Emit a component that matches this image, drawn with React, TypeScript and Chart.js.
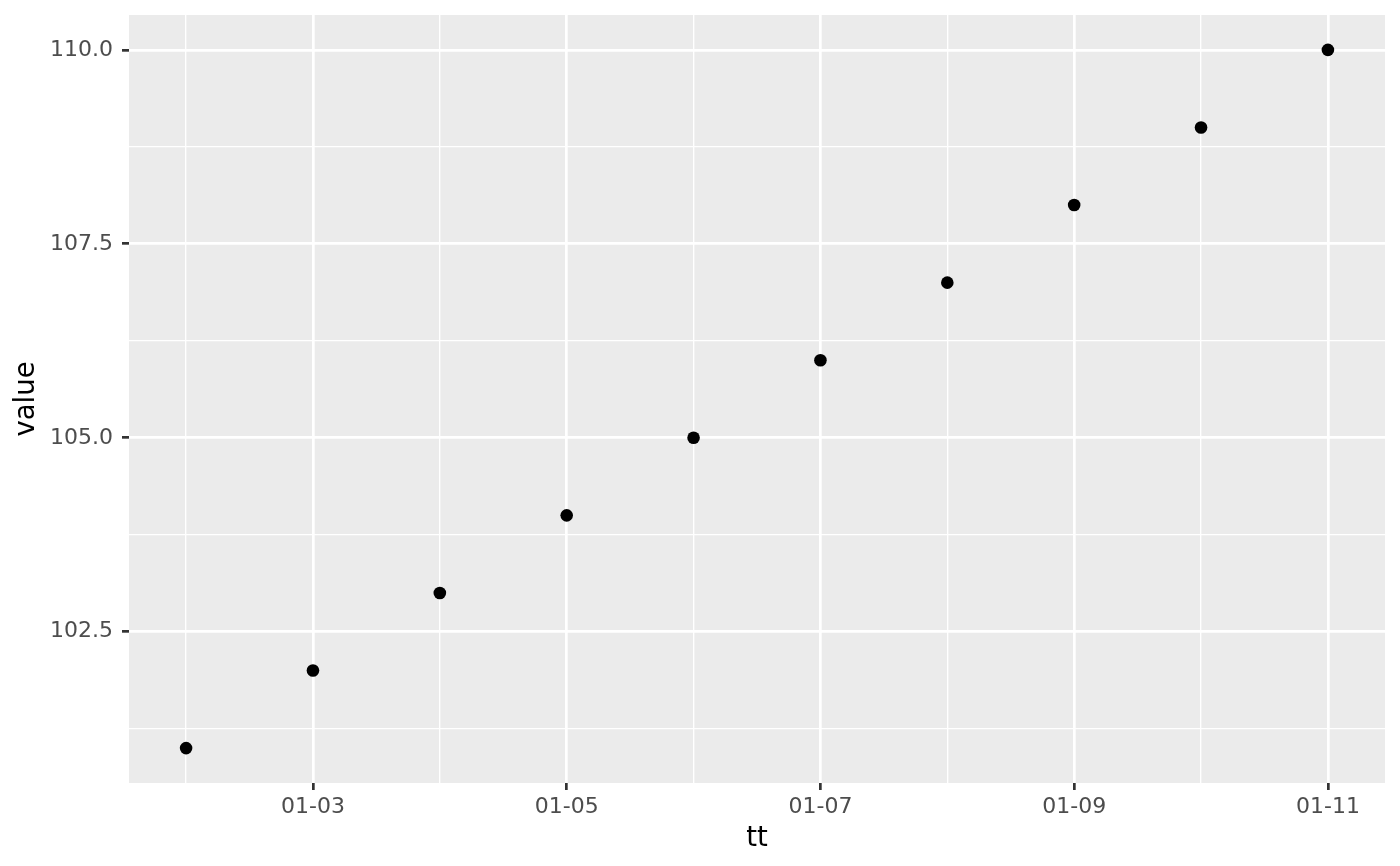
import React, { useEffect, useRef } from "react";
import { Chart, registerables } from "chart.js";

Chart.register(...registerables);

const dayLabels = ["01-02", "01-03", "01-04", "01-05", "01-06", "01-07", "01-08", "01-09", "01-10", "01-11"];
const dayNumbers = [2, 3, 4, 5, 6, 7, 8, 9, 10, 11];
const values = [101, 102, 103, 104, 105, 106, 107, 108, 109, 110];
const xMajorTicks = [3, 5, 7, 9, 11];
const xAllGrid = [2, 3, 4, 5, 6, 7, 8, 9, 10, 11];
const yMajorTicks = [102.5, 105, 107.5, 110];
const yAllGrid = [101.25, 102.5, 103.75, 105, 106.25, 107.5, 108.75, 110];
const xRange = [1.55, 11.45];
const yRange = [100.55, 110.45];

const FONT = "'DejaVu Sans', sans-serif";

const panelBg = {
  id: "panelBg",
  beforeDraw(chart: any) {
    const { ctx, chartArea } = chart;
    if (!chartArea) return;
    ctx.save();
    ctx.fillStyle = "#EBEBEB";
    ctx.fillRect(chartArea.left, chartArea.top, chartArea.right - chartArea.left, chartArea.bottom - chartArea.top);
    ctx.restore();
  },
};

export default function App() {
  const ref = useRef<HTMLCanvasElement | null>(null);

  useEffect(() => {
    if (!ref.current) return;
    const pts = dayNumbers.map((d, i) => ({ x: d, y: values[i] }));
    const isMajorX = (v: number) => xMajorTicks.includes(v);
    const isMajorY = (v: number) => yMajorTicks.includes(v);
    const chart = new Chart(ref.current, {
      type: "scatter",
      data: {
        datasets: [
          {
            data: pts,
            backgroundColor: "#000000",
            borderWidth: 0,
            pointRadius: 6.3,
            pointHoverRadius: 6.3,
          },
        ],
      },
      plugins: [panelBg],
      options: {
        animation: false,
        responsive: true,
        maintainAspectRatio: false,
        layout: { padding: { top: 15, right: 15, left: 0, bottom: 0 } },
        plugins: { legend: { display: false }, tooltip: { enabled: false } },
        scales: {
          x: {
            type: "linear",
            min: xRange[0],
            max: xRange[1],
            afterBuildTicks: (scale: any) => {
              scale.ticks = xAllGrid.map((v) => ({ value: v }));
            },
            afterFit: (scale: any) => {
              scale.height = 83;
              scale.paddingLeft = 0;
              scale.paddingRight = 0;
            },
            border: { display: false },
            grid: {
              color: "#FFFFFF",
              lineWidth: (ctx: any) => (ctx.tick && isMajorX(ctx.tick.value) ? 2.7 : 1.35),
              drawTicks: true,
              tickLength: 7,
              tickWidth: 2.7,
              tickColor: (ctx: any) => (ctx.tick && isMajorX(ctx.tick.value) ? "#333333" : "rgba(0,0,0,0)"),
            },
            ticks: {
              autoSkip: false,
              maxRotation: 0,
              minRotation: 0,
              padding: 4,
              color: "#4D4D4D",
              font: { family: FONT, size: 22 },
              callback: (v: any) => {
                const i = dayNumbers.indexOf(Number(v));
                return isMajorX(Number(v)) && i >= 0 ? dayLabels[i] : "";
              },
            },
            title: {
              display: true,
              text: "tt",
              color: "#000000",
              font: { family: FONT, size: 27.5 },
              padding: { top: 0, bottom: 11 },
            },
          },
          y: {
            type: "linear",
            min: yRange[0],
            max: yRange[1],
            afterBuildTicks: (scale: any) => {
              scale.ticks = yAllGrid.map((v) => ({ value: v }));
            },
            afterFit: (scale: any) => {
              scale.width = 129;
              scale.paddingTop = 0;
              scale.paddingBottom = 0;
            },
            border: { display: false },
            grid: {
              color: "#FFFFFF",
              lineWidth: (ctx: any) => (ctx.tick && isMajorY(ctx.tick.value) ? 2.7 : 1.35),
              drawTicks: true,
              tickLength: 7,
              tickWidth: 2.7,
              tickColor: (ctx: any) => (ctx.tick && isMajorY(ctx.tick.value) ? "#333333" : "rgba(0,0,0,0)"),
            },
            ticks: {
              autoSkip: false,
              padding: 9,
              color: "#4D4D4D",
              font: { family: FONT, size: 22 },
              callback: (v: any) => (isMajorY(Number(v)) ? Number(v).toFixed(1) : ""),
            },
            title: {
              display: true,
              text: "value",
              color: "#000000",
              font: { family: FONT, size: 27.5 },
              padding: { top: 10, bottom: 0 },
            },
          },
        },
      },
    });
    return () => chart.destroy();
  }, []);

  return (
    <div style={{ position: "absolute", left: 0, top: 0, width: 1400, height: 866, background: "#FFFFFF" }}>
      <canvas ref={ref} />
    </div>
  );
}
